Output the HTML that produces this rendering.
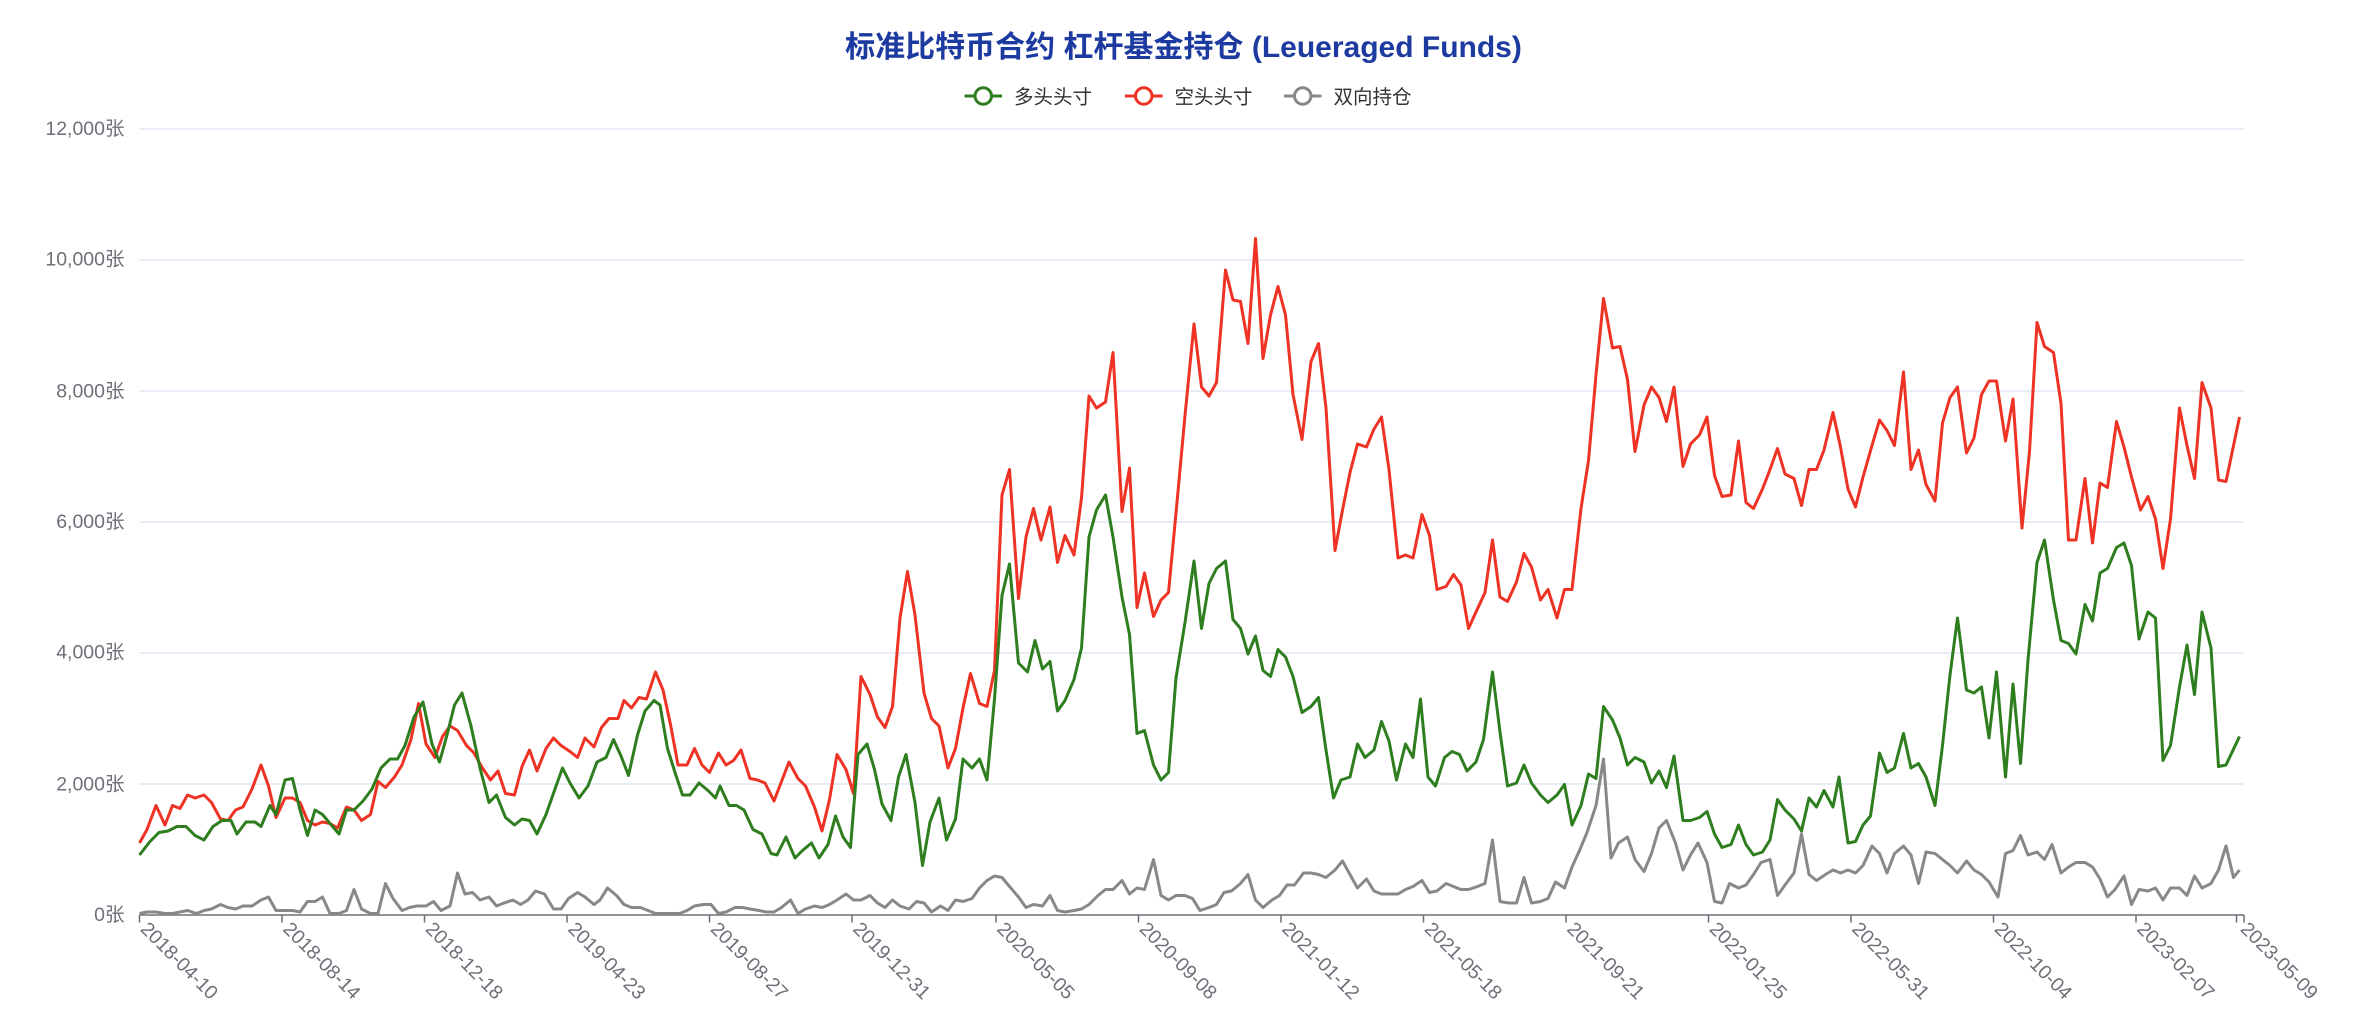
<!DOCTYPE html>
<html><head><meta charset="utf-8"><style>html,body{margin:0;padding:0;background:#fff}svg{display:block}</style></head><body>
<svg width="2367" height="1035" viewBox="0 0 1578 690" xmlns="http://www.w3.org/2000/svg" font-family="'Liberation Sans','Noto Sans CJK SC',sans-serif">
<text x="789" y="38" text-anchor="middle" font-size="20" font-weight="bold" fill="#1c3aa0">标准比特币合约 杠杆基金持仓 (Leueraged Funds)</text>
<g font-size="13" fill="#333">
<line x1="643" y1="64" x2="668" y2="64" stroke="#2e7d1e" stroke-width="2"/><circle cx="655.5" cy="64" r="5.5" fill="#fff" stroke="#2e7d1e" stroke-width="2"/><text x="676" y="69">多头头寸</text>
<line x1="750" y1="64" x2="775" y2="64" stroke="#ee3224" stroke-width="2"/><circle cx="762.5" cy="64" r="5.5" fill="#fff" stroke="#ee3224" stroke-width="2"/><text x="783" y="69">空头头寸</text>
<line x1="856" y1="64" x2="881" y2="64" stroke="#888" stroke-width="2"/><circle cx="868.5" cy="64" r="5.5" fill="#fff" stroke="#888" stroke-width="2"/><text x="889" y="69">双向持仓</text>
</g>
<g stroke="#e0e6f1" stroke-width="1">
<line x1="93" y1="86" x2="1496" y2="86"/><line x1="93" y1="173.3" x2="1496" y2="173.3"/><line x1="93" y1="260.7" x2="1496" y2="260.7"/><line x1="93" y1="348" x2="1496" y2="348"/><line x1="93" y1="435.3" x2="1496" y2="435.3"/><line x1="93" y1="522.7" x2="1496" y2="522.7"/>
</g>
<g font-size="13" fill="#6e7079" text-anchor="end">
<text x="83" y="90">12,000张</text><text x="83" y="177">10,000张</text><text x="83" y="265">8,000张</text><text x="83" y="352">6,000张</text><text x="83" y="439">4,000张</text><text x="83" y="527">2,000张</text><text x="83" y="614">0张</text>
</g>
<line x1="93" y1="610" x2="1496" y2="610" stroke="#6e7079" stroke-width="1"/>
<g stroke="#6e7079" stroke-width="1">
<line x1="93" y1="610" x2="93" y2="615"/><line x1="188" y1="610" x2="188" y2="615"/><line x1="283" y1="610" x2="283" y2="615"/><line x1="378" y1="610" x2="378" y2="615"/><line x1="473" y1="610" x2="473" y2="615"/><line x1="568" y1="610" x2="568" y2="615"/><line x1="664" y1="610" x2="664" y2="615"/><line x1="759" y1="610" x2="759" y2="615"/><line x1="854" y1="610" x2="854" y2="615"/><line x1="949" y1="610" x2="949" y2="615"/><line x1="1044" y1="610" x2="1044" y2="615"/><line x1="1139" y1="610" x2="1139" y2="615"/><line x1="1234" y1="610" x2="1234" y2="615"/><line x1="1329" y1="610" x2="1329" y2="615"/><line x1="1424" y1="610" x2="1424" y2="615"/><line x1="1491" y1="610" x2="1491" y2="615"/><line x1="1496" y1="610" x2="1496" y2="615"/>
</g>
<g font-size="13" fill="#6e7079">
<text transform="translate(93,620) rotate(45)">2018-04-10</text>
<text transform="translate(188,620) rotate(45)">2018-08-14</text>
<text transform="translate(283,620) rotate(45)">2018-12-18</text>
<text transform="translate(378,620) rotate(45)">2019-04-23</text>
<text transform="translate(473,620) rotate(45)">2019-08-27</text>
<text transform="translate(568,620) rotate(45)">2019-12-31</text>
<text transform="translate(664,620) rotate(45)">2020-05-05</text>
<text transform="translate(759,620) rotate(45)">2020-09-08</text>
<text transform="translate(854,620) rotate(45)">2021-01-12</text>
<text transform="translate(949,620) rotate(45)">2021-05-18</text>
<text transform="translate(1044,620) rotate(45)">2021-09-21</text>
<text transform="translate(1139,620) rotate(45)">2022-01-25</text>
<text transform="translate(1234,620) rotate(45)">2022-05-31</text>
<text transform="translate(1329,620) rotate(45)">2022-10-04</text>
<text transform="translate(1424,620) rotate(45)">2023-02-07</text>
<text transform="translate(1493,620) rotate(45)">2023-05-09</text>
</g>
<g fill="none" stroke-width="2" stroke-linejoin="round">
<polyline stroke="#888" points="93,609 98,608 104,608 110,609 115,609 120,608 125,607 131,609 136,607 141,606 147,603 152,605 157,606 162,604 168,604 174,600 179,598 184,607 190,607 195,607 200,608 205,601 210,601 215,598 220,609 226,609 231,607 236,593 241,606 247,609 252,609 257,589 262,599 268,607 273,605 278,604 284,604 289,601 294,607 300,604 305,582 310,596 315,595 320,600 326,598 331,604 336,602 342,600 347,603 352,600 357,594 363,596 369,606 374,606 379,599 385,595 390,598 396,603 400,600 405,592 411,597 416,603 421,605 427,605 432,607 437,609 442,609 448,609 453,609 458,607 463,604 469,603 474,603 479,609 484,608 490,605 495,605 500,606 506,607 511,608 516,608 521,605 527,600 532,609 537,606 543,604 548,605 553,603 558,600 564,596 569,600 574,600 580,597 585,602 590,605 595,600 600,604 606,606 611,601 616,602 621,608 627,604 632,607 637,600 642,601 648,599 653,592 658,587 663,584 668,585 673,591 679,598 684,605 689,603 695,604 700,597 705,607 710,608 716,607 721,606 726,603 732,597 737,593 742,593 748,587 753,596 758,592 763,593 769,573 774,597 779,600 784,597 790,597 795,599 800,607 806,605 811,603 816,595 821,594 827,589 832,583 837,600 842,605 848,600 853,597 858,590 863,590 869,582 874,582 879,583 884,585 890,580 895,574 900,583 905,592 911,586 916,594 921,596 927,596 932,596 937,593 942,591 948,587 953,595 958,594 964,589 969,591 974,593 979,593 985,591 990,589 995,560 1000,601 1006,602 1011,602 1016,585 1021,602 1027,601 1032,599 1037,588 1043,592 1048,578 1053,567 1058,555 1064,537 1069,506 1074,572 1079,562 1085,558 1090,573 1096,581 1101,569 1106,552 1111,547 1117,562 1122,580 1127,570 1132,562 1138,575 1143,601 1148,602 1153,589 1159,592 1164,590 1169,583 1174,575 1180,573 1185,597 1190,590 1196,582 1201,556 1206,583 1211,587 1217,583 1222,580 1227,582 1232,580 1237,582 1242,577 1248,564 1253,569 1258,582 1263,569 1269,564 1274,570 1279,589 1284,568 1290,569 1295,573 1300,577 1305,582 1311,574 1316,580 1321,583 1326,588 1332,598 1337,569 1342,567 1347,557 1352,570 1358,568 1363,573 1368,563 1374,582 1379,578 1384,575 1390,575 1395,578 1400,586 1405,598 1410,593 1416,584 1421,603 1426,593 1432,594 1437,592 1442,600 1447,592 1453,592 1458,597 1463,584 1468,592 1474,589 1479,580 1484,564 1489,585 1493,580"/>
<polyline stroke="#ee3224" points="93,562 98,553 104,537 110,550 115,537 120,539 125,530 130,532 136,530 141,535 147,546 152,547 157,540 162,538 168,526 174,510 179,524 184,545 190,532 195,532 200,535 205,547 210,550 215,548 220,549 225,552 231,538 236,540 241,547 247,543 252,521 257,525 263,518 268,510 274,493 279,469 284,496 290,505 295,491 300,484 305,487 311,497 316,502 321,511 327,520 332,514 337,529 343,530 348,511 353,500 358,514 364,499 369,492 374,497 380,501 385,505 390,492 396,498 401,485 406,479 412,479 416,467 421,472 426,465 431,466 437,448 442,460 447,483 452,510 458,510 463,499 468,510 473,515 479,502 484,510 489,507 494,500 500,519 505,520 510,522 516,534 521,521 526,508 532,519 537,524 543,538 548,554 553,533 558,503 564,513 569,529 574,451 580,463 585,478 590,485 595,471 600,412 605,381 610,410 616,462 621,479 626,484 632,512 637,499 642,472 647,449 653,469 658,471 663,447 668,330 673,313 679,399 684,358 689,339 694,360 700,338 705,375 710,357 716,370 721,332 726,264 731,272 737,268 742,235 748,341 753,312 758,405 763,382 769,411 774,400 779,395 784,342 790,277 796,216 801,258 806,264 811,255 817,180 822,200 827,201 832,229 837,159 842,239 847,210 852,191 857,210 862,263 868,293 874,241 879,229 884,272 890,367 895,340 900,315 905,296 911,298 916,286 921,278 926,313 932,372 937,370 942,372 948,343 953,357 958,393 964,391 969,383 974,390 979,419 984,408 990,395 995,360 1000,398 1005,401 1011,388 1016,369 1021,378 1027,400 1032,393 1038,412 1043,393 1048,393 1054,339 1059,307 1064,250 1069,199 1075,232 1080,231 1085,253 1090,301 1096,270 1101,258 1106,265 1111,281 1116,258 1122,311 1127,296 1133,290 1138,278 1143,317 1148,331 1154,330 1159,294 1164,335 1169,339 1175,326 1180,313 1185,299 1190,316 1196,319 1201,337 1206,313 1211,313 1216,300 1222,275 1227,298 1232,326 1237,338 1242,318 1248,297 1253,280 1258,287 1263,297 1269,248 1274,313 1279,300 1284,323 1290,334 1295,282 1300,265 1305,258 1311,302 1316,292 1321,263 1326,254 1331,254 1337,294 1342,266 1348,352 1353,301 1358,215 1363,231 1369,235 1374,269 1379,360 1384,360 1390,319 1395,362 1400,322 1405,325 1411,281 1416,298 1421,318 1427,340 1432,331 1437,346 1442,379 1447,346 1453,272 1458,297 1463,319 1468,255 1474,272 1479,320 1484,321 1493,278"/>
<polyline stroke="#2e7d1e" points="93,570 100,561 106,555 112,554 118,551 124,551 130,557 136,560 142,551 148,547 154,547 158,556 164,548 170,548 174,551 180,537 184,543 190,520 195,519 200,540 205,557 210,540 215,543 220,549 226,556 231,540 236,540 242,534 248,526 254,512 260,506 265,506 270,497 276,478 282,468 288,496 293,508 298,490 303,470 308,462 314,484 320,512 326,535 331,530 337,545 343,550 348,546 353,547 358,556 364,543 370,526 375,512 380,522 386,532 392,524 398,508 404,505 409,493 414,504 419,517 425,490 430,474 436,467 440,470 445,499 450,515 455,530 460,530 466,522 472,527 477,532 480,524 486,537 491,537 496,540 502,553 508,556 514,569 518,570 524,558 530,572 535,567 541,562 546,572 552,563 557,544 562,558 567,565 572,503 578,496 583,513 588,536 594,547 599,518 604,503 610,535 615,577 620,548 626,532 631,560 637,546 642,506 648,512 653,506 658,520 663,466 668,397 673,376 679,442 685,448 690,427 695,446 700,441 705,474 710,467 716,453 721,432 726,358 731,340 737,330 742,358 748,398 753,423 758,489 763,487 769,510 774,520 779,515 784,452 790,415 796,374 801,419 806,389 811,379 817,374 822,413 827,419 832,436 837,424 842,447 847,451 852,433 857,438 862,451 868,475 874,471 879,465 884,500 889,532 894,520 900,518 905,496 910,505 916,500 921,481 926,494 931,520 937,496 942,505 947,466 952,518 957,524 963,505 968,501 973,503 978,514 984,508 989,493 995,448 1000,488 1005,524 1011,522 1016,510 1021,522 1027,530 1032,535 1038,530 1043,523 1048,550 1054,537 1059,516 1064,519 1069,471 1075,480 1080,492 1085,510 1090,505 1096,508 1101,522 1106,514 1111,525 1116,504 1122,547 1127,547 1133,545 1138,541 1143,556 1148,565 1154,563 1159,550 1164,563 1169,570 1175,568 1180,560 1185,533 1190,540 1196,546 1201,554 1206,532 1211,538 1216,527 1222,538 1226,518 1232,562 1237,561 1242,550 1247,544 1253,502 1258,515 1263,512 1269,489 1274,512 1279,509 1284,518 1290,537 1295,497 1300,450 1305,412 1311,460 1316,462 1321,458 1326,492 1331,448 1337,518 1342,456 1347,509 1352,440 1358,375 1363,360 1369,400 1374,427 1379,429 1384,436 1390,403 1395,414 1400,382 1405,379 1411,365 1416,362 1421,377 1426,426 1432,408 1437,412 1442,507 1447,497 1453,458 1458,430 1463,463 1468,408 1474,432 1479,511 1484,510 1493,491"/>
</g>
</svg>
</body></html>
